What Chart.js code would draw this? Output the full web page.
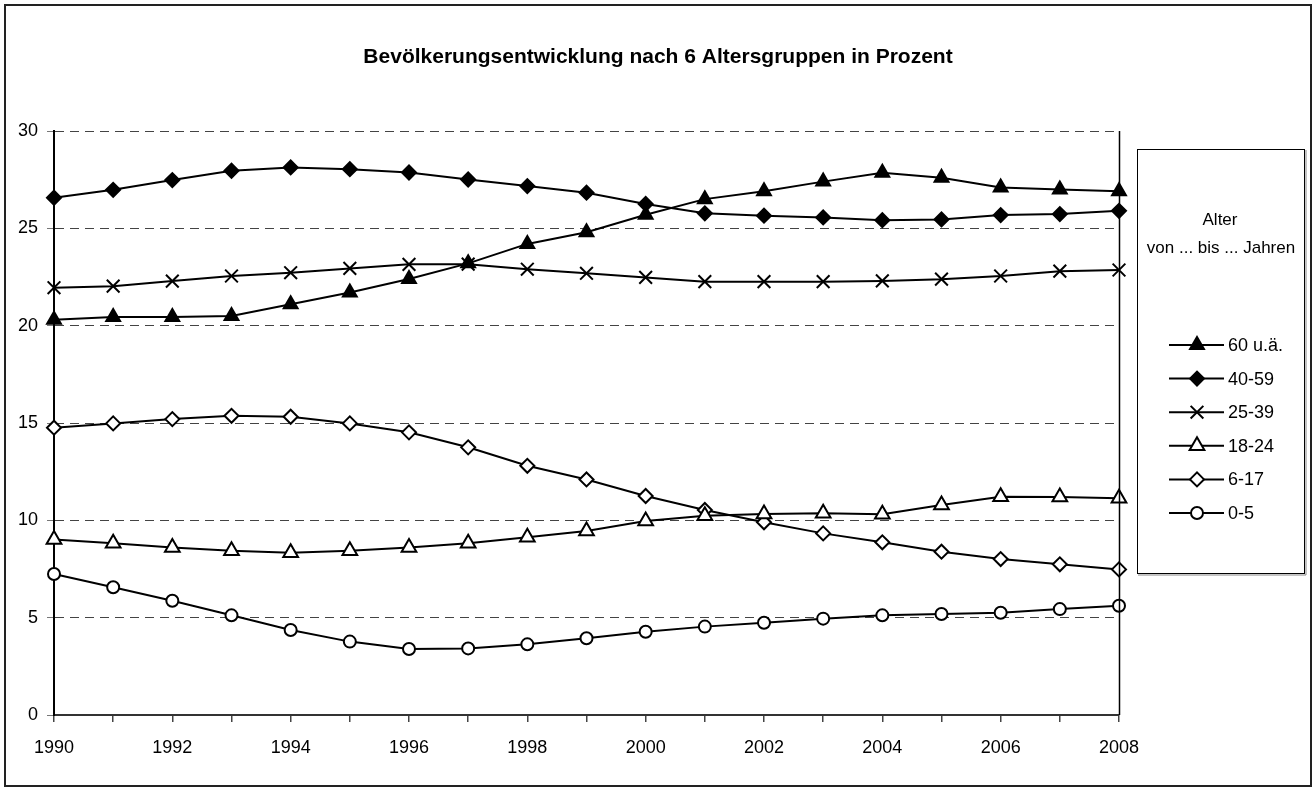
<!DOCTYPE html>
<html>
<head>
<meta charset="utf-8">
<title>Bevölkerungsentwicklung</title>
<script src="https://cdn.jsdelivr.net/npm/chart.js@4.4.1/dist/chart.umd.min.js"></script>
<style>
  html, body { margin: 0; padding: 0; background: #fff; }
  #wrap { width: 1314px; height: 796px; }
</style>
</head>
<body>
<div id="wrap"><canvas id="chart" width="1314" height="796"></canvas></div>
<script>
const FONT = "'Liberation Sans Narrow', 'Arial Narrow', 'Liberation Sans', Arial, sans-serif";

const years = ['1990', '1991', '1992', '1993', '1994', '1995', '1996', '1997', '1998', '1999',
  '2000', '2001', '2002', '2003', '2004', '2005', '2006', '2007', '2008'];

const age60plus = [20.3, 20.45, 20.45, 20.5, 21.1, 21.7, 22.4, 23.2, 24.2, 24.8, 25.7, 26.5, 26.9, 27.4, 27.85, 27.6, 27.1, 27.0, 26.9];
const age40to59 = [26.57, 26.98, 27.48, 27.96, 28.13, 28.04, 27.87, 27.51, 27.17, 26.83, 26.25, 25.77, 25.65, 25.56, 25.42, 25.46, 25.68, 25.73, 25.9];
const age25to39 = [21.95, 22.03, 22.29, 22.55, 22.72, 22.94, 23.15, 23.16, 22.9, 22.69, 22.48, 22.26, 22.26, 22.26, 22.3, 22.39, 22.55, 22.8, 22.86];
const age18to24 = [9.02, 8.82, 8.6, 8.44, 8.34, 8.44, 8.6, 8.82, 9.13, 9.45, 9.96, 10.24, 10.32, 10.36, 10.31, 10.79, 11.21, 11.2, 11.13];
const age6to17 = [14.76, 14.98, 15.2, 15.37, 15.32, 14.98, 14.52, 13.75, 12.8, 12.1, 11.25, 10.53, 9.9, 9.33, 8.87, 8.39, 8.01, 7.74, 7.48];
const age0to5 = [7.24, 6.56, 5.87, 5.12, 4.37, 3.77, 3.39, 3.42, 3.63, 3.94, 4.28, 4.54, 4.74, 4.95, 5.12, 5.19, 5.25, 5.44, 5.61];

const seriesLabels = ['60 u.ä.', '40-59', '25-39', '18-24', '6-17', '0-5'];
const titleText = 'Bevölkerungsentwicklung nach 6 Altersgruppen in Prozent';
const legendHeader = ['Alter', 'von ... bis ... Jahren'];

function series(label, data, style, fill, radius) {
  return {
    label: label,
    data: data,
    borderColor: '#000',
    borderWidth: 2,
    tension: 0,
    pointStyle: style,
    pointRadius: radius,
    pointHoverRadius: radius,
    pointBackgroundColor: fill,
    pointBorderColor: '#000',
    pointBorderWidth: 2
  };
}

// background, frame, title, right plot border and the legend box
const decor = {
  id: 'decor',
  beforeDraw(chart) {
    const ctx = chart.ctx;
    ctx.save();
    ctx.fillStyle = '#fff';
    ctx.fillRect(0, 0, chart.width, chart.height);
    ctx.restore();
  },
  afterDraw(chart) {
    const ctx = chart.ctx;
    const area = chart.chartArea;
    ctx.save();

    ctx.strokeStyle = '#000';
    ctx.lineWidth = 1.5;
    ctx.beginPath();
    ctx.moveTo(Math.round(area.right) + 0.5, area.top);
    ctx.lineTo(Math.round(area.right) + 0.5, area.bottom);
    ctx.stroke();

    ctx.strokeStyle = '#222';
    ctx.lineWidth = 2;
    ctx.strokeRect(5, 5, 1306, 781);

    ctx.fillStyle = '#000';
    ctx.font = 'bold 21px ' + FONT;
    ctx.textAlign = 'center';
    ctx.textBaseline = 'middle';
    ctx.fillText(titleText, 658, 57);

    // legend box
    ctx.strokeStyle = '#000';
    ctx.lineWidth = 1;
    ctx.strokeRect(1137.5, 149.5, 167, 424);
    ctx.strokeStyle = '#888';
    ctx.beginPath();
    ctx.moveTo(1138, 575);
    ctx.lineTo(1306, 575);
    ctx.lineTo(1306, 150);
    ctx.stroke();

    ctx.fillStyle = '#000';
    ctx.font = '17px ' + FONT;
    ctx.fillText(legendHeader[0], 1220, 220);
    ctx.fillText(legendHeader[1], 1221, 248);

    ctx.font = '18px ' + FONT;
    ctx.textAlign = 'left';
    chart.data.datasets.forEach((ds, i) => {
      const y = 345 + i * 33.6;
      ctx.strokeStyle = '#000';
      ctx.lineWidth = 2;
      ctx.beginPath();
      ctx.moveTo(1169, y);
      ctx.lineTo(1224, y);
      ctx.stroke();
      ctx.fillStyle = ds.pointBackgroundColor;
      ctx.lineWidth = 2;
      Chart.helpers.drawPoint(ctx, {
        pointStyle: ds.pointStyle,
        radius: ds.pointRadius,
        rotation: 0,
        borderWidth: 2
      }, 1197, y);
      ctx.fillStyle = '#000';
      ctx.fillText(ds.label, 1228, y + 1);
    });

    ctx.restore();
  }
};

new Chart(document.getElementById('chart'), {
  type: 'line',
  data: {
    labels: years,
    datasets: [
      series(seriesLabels[0], age60plus, 'triangle', '#000', 8),
      series(seriesLabels[1], age40to59, 'rectRot', '#000', 7),
      series(seriesLabels[2], age25to39, 'crossRot', '#000', 9),
      series(seriesLabels[3], age18to24, 'triangle', '#fff', 8.5),
      series(seriesLabels[4], age6to17, 'rectRot', '#fff', 7),
      series(seriesLabels[5], age0to5, 'circle', '#fff', 6)
    ]
  },
  options: {
    responsive: false,
    animation: false,
    events: [],
    layout: { padding: { left: 0, right: 195, top: 131, bottom: 0 } },
    plugins: {
      legend: { display: false },
      title: { display: false },
      tooltip: { enabled: false }
    },
    scales: {
      x: {
        offset: false,
        afterFit(scale) { scale.height = 81; },
        grid: { drawOnChartArea: false, drawTicks: true, tickLength: 7, color: '#444', lineWidth: 1.5 },
        border: { display: true, color: '#333', width: 2 },
        ticks: {
          autoSkip: false,
          maxRotation: 0,
          padding: 15,
          color: '#000',
          font: { family: FONT, size: 18 },
          callback(value, index) { return index % 2 === 0 ? this.getLabelForValue(value) : ''; }
        }
      },
      y: {
        min: 0,
        max: 30,
        afterFit(scale) { scale.width = 54; },
        grid: { color: '#444', lineWidth: 1, tickBorderDash: [0, 0], tickLength: 7, tickColor: '#777' },
        border: { display: true, color: '#000', width: 2, dash: [9, 6] },
        ticks: {
          stepSize: 5,
          padding: 9,
          color: '#000',
          font: { family: FONT, size: 18 }
        }
      }
    }
  },
  plugins: [decor]
});
</script>
</body>
</html>
